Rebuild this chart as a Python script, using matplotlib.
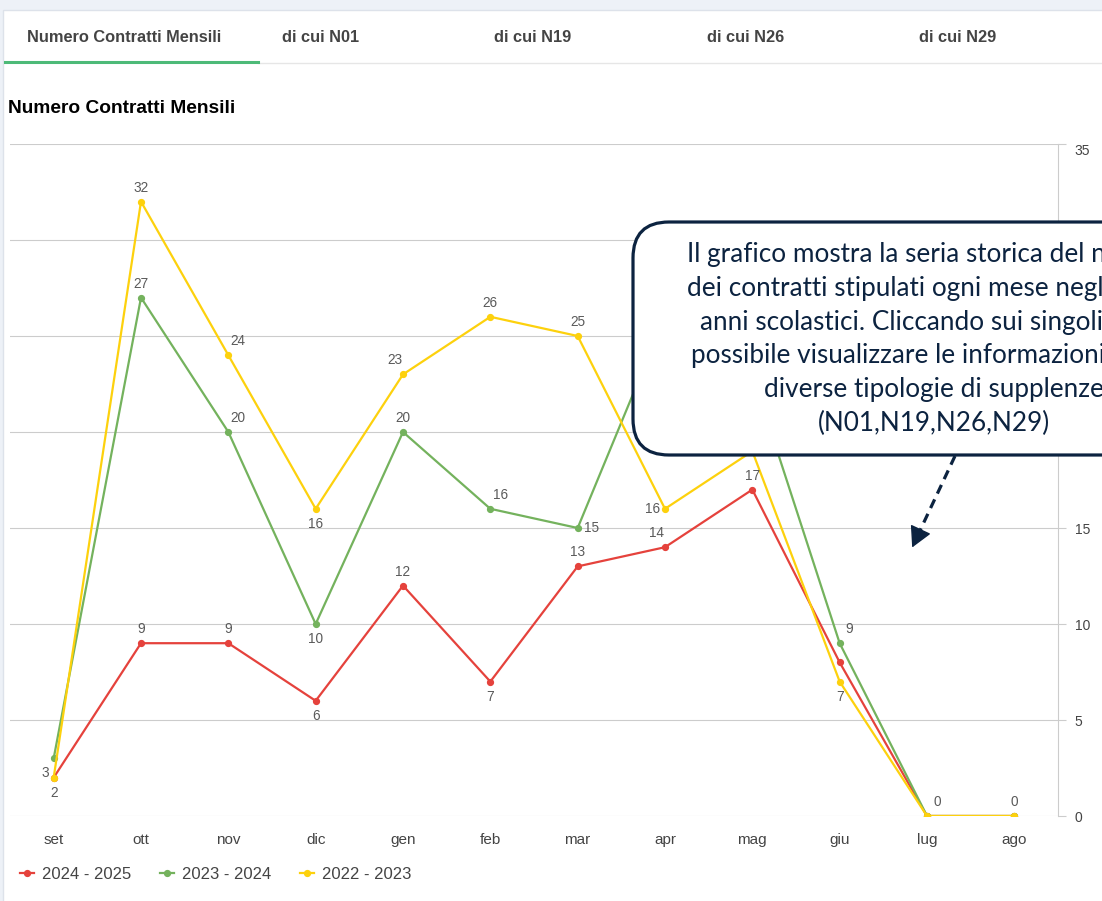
import matplotlib
matplotlib.use("Agg")
import matplotlib.pyplot as plt
from matplotlib.patches import FancyBboxPatch, Rectangle, FancyArrowPatch
from matplotlib.lines import Line2D
from matplotlib.transforms import Affine2D

# data
months = ["set", "ott", "nov", "dic", "gen", "feb", "mar", "apr", "mag", "giu", "lug", "ago"]
y2024 = [2, 9, 9, 6, 12, 7, 13, 14, 17, 8, 0, 0]
y2023 = [3, 27, 20, 10, 20, 16, 15, 26, 23, 9, 0, 0]
y2022 = [2, 32, 24, 16, 23, 26, 25, 16, 19, 7, 0, 0]
series_names = ["2024 - 2025", "2023 - 2024", "2022 - 2023"]
tabs = ["Numero Contratti Mensili", "di cui N01", "di cui N19", "di cui N26", "di cui N29"]
yticks = [0, 5, 10, 15, 20, 25, 30, 35]

callout = ("Il grafico mostra la seria storica del numero\n"
           "dei contratti stipulati ogni mese negli ultimi\n"
           "anni scolastici. Cliccando sui singoli tab è\n"
           "possibile visualizzare le informazioni per le\n"
           "diverse tipologie di supplenze\n"
           "(N01,N19,N26,N29)")

# where each value label sits (a=above, b=below, r/l=side, None=hidden)
lab_2024 = [None, "a", "a", "b", "a", "b", "a", "al", "a", None, None, None]
lab_2023 = ["bl", "a", "ar", "b", "a", "ar", "r", None, None, "ar", None, None]
lab_2022 = ["b", "a", "ar", "b", "al", "a", "a", "l", None, "b", "ar", "a"]
offsets = {"a": (0, 14), "b": (0, -15), "ar": (10, 14), "al": (-8, 14),
           "r": (14, 0), "l": (-12, 0), "bl": (-8, -15)}

colors = ["#e5423c", "#74b25d", "#fdd10d"]
navy = "#0c2340"

W, H = 1102, 901
fig = plt.figure(figsize=(W / 100, H / 100), dpi=100)
# pixel coords, origin top-left
pix = Affine2D().scale(1 / 100, -1 / 100).translate(0, H / 100) + fig.dpi_scale_trans

fig.patches.append(Rectangle((0, 0), W, H, transform=pix, facecolor="#edf1f7",
                             edgecolor="none", zorder=-2))
fig.patches.append(Rectangle((3, 10), W, H, transform=pix, facecolor="white",
                             edgecolor="#dde2ea", lw=1, zorder=-1))

tabfont = ["Liberation Sans Narrow", "Liberation Sans"]
tab_x = [27, 282, 494, 707, 919]
for t, xt in zip(tabs, tab_x):
    fig.text(xt, 37, t, transform=pix, family=tabfont, fontweight="bold",
             fontsize=11.8, color="#444444", ha="left", va="center")
fig.add_artist(Line2D([258, W], [63, 63], transform=pix, color="#e6e6e6", lw=1))
fig.add_artist(Line2D([5, 258], [61.5, 61.5], transform=pix, color="#4dba78", lw=2.2))
fig.text(8, 108.5, "Numero Contratti Mensili", transform=pix, family=tabfont,
         fontweight="bold", fontsize=13.8, color="black", ha="left", va="center")

plt.rcParams["font.family"] = ["Liberation Sans", "DejaVu Sans"]

ax = fig.add_axes([10 / W, (H - 816) / H, (1058 - 10) / W, (816 - 144) / H])
ax.patch.set_alpha(0)
x = list(range(len(months)))
data = [y2024, y2023, y2022]
labs = [lab_2024, lab_2023, lab_2022]
for vals, c, name, lab in zip(data, colors, series_names, labs):
    ax.plot(x, vals, color=c, lw=1.6, marker="o", ms=4.2, label=name,
            solid_joinstyle="round")
    for xi, v, pos in zip(x, vals, lab):
        if pos is None:
            continue
        ax.annotate(str(v), (xi, v), xytext=offsets[pos], textcoords="offset pixels",
                    ha="center", va="center", fontsize=9.8, color="#5a5a5a")

ax.set_xlim(-0.5, len(months) - 0.5)
ax.set_ylim(0, 35)
ax.set_xticks(x)
ax.set_xticklabels(months)
ax.set_yticks(yticks)
ax.yaxis.tick_right()
ax.tick_params(axis="x", length=0, pad=12, labelsize=11, labelcolor="#444444")
ax.tick_params(axis="y", length=6, width=0.8, color="#cccccc", pad=6,
               labelsize=10, labelcolor="#444444")
# top label sits inside the plot like the reference
ax.get_yticklabels()[-1].set_va("top")
for s in ["top", "left", "bottom"]:
    ax.spines[s].set_visible(False)
ax.spines["right"].set_color("#cccccc")
ax.spines["right"].set_linewidth(0.8)
ax.grid(axis="y", color="#cccccc", lw=0.8)
ax.set_axisbelow(True)

ax.legend(loc="upper left", bbox_to_anchor=(10 / W, (H - 857) / H),
          bbox_transform=fig.transFigure, ncol=3, frameon=False, fontsize=12,
          handlelength=0.85, handletextpad=0.45, columnspacing=1.75,
          labelcolor="#444444", borderaxespad=0.2)

# callout box over the chart
fig.patches.append(FancyBboxPatch((633, 222), 620, 233, transform=pix,
                                  boxstyle="round,pad=0,rounding_size=36",
                                  facecolor="white", edgecolor=navy,
                                  lw=2.3, zorder=5))
fig.text(934, 339, callout, transform=pix, family=["Lato", "DejaVu Sans"],
         fontsize=18.8, color=navy, ha="center", va="center",
         multialignment="center", linespacing=1.43, zorder=6)
fig.add_artist(Line2D([955, 917], [456, 537], transform=pix, color=navy, lw=2.3,
                      linestyle=(0, (3, 2)), zorder=5))
fig.patches.append(FancyArrowPatch((918, 535), (911, 550), transform=pix,
                                   arrowstyle="-|>,head_length=13,head_width=7",
                                   color=navy, lw=1, zorder=5))

fig.savefig("out.png", dpi=100)
